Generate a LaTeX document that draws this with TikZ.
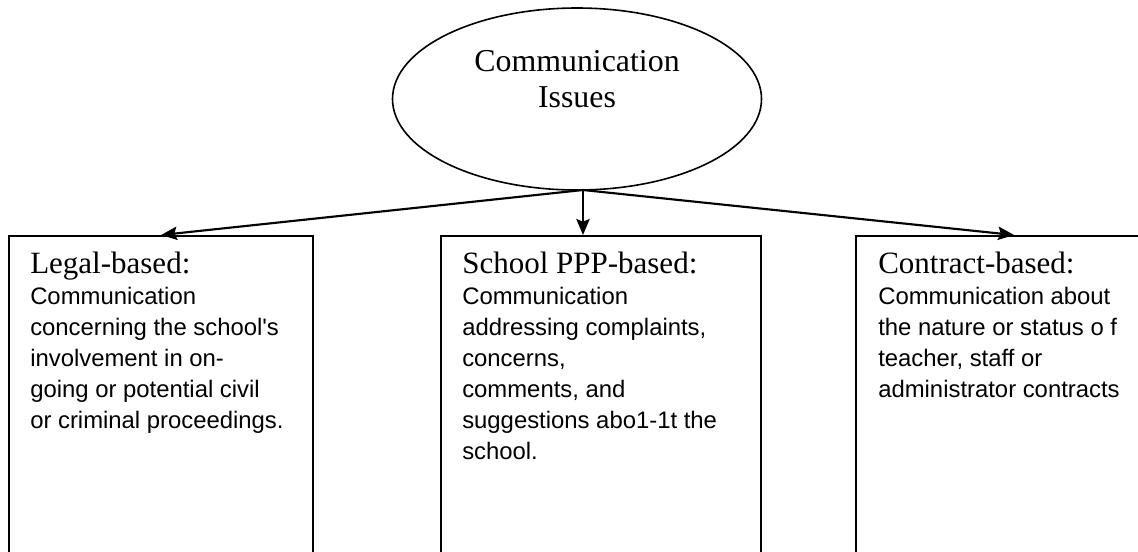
\documentclass[tikz,border=0pt]{standalone}
\usepackage{fontspec}
\setmainfont{Liberation Serif}
\setsansfont{Liberation Sans}
\usetikzlibrary{shapes.geometric,arrows.meta}
\newcommand\boxtitle[1]{{\rmfamily\fontsize{23.25}{28}\selectfont #1}}

\begin{document}
\begin{tikzpicture}[x=0.75pt,y=-0.75pt,
		issue/.style={draw,ellipse,line width=1.2pt,minimum width=276.75pt,minimum height=136.5pt,inner sep=0pt},
		frame/.style={draw,rectangle,line width=1.6pt,anchor=north west,minimum height=255pt,inner sep=0pt},
		boxtext/.style={anchor=north west,align=left,inner sep=0pt,font=\sffamily\fontsize{17.9}{23.25}\selectfont},
		link/.style={line width=1.6pt,-{Stealth[length=12pt,width=10pt,inset=2pt]}}]
	\useasboundingbox (0,0) rectangle (1138,551);
	\clip (0,0) rectangle (1138,551);
	% top ellipse
	\node[issue] (issues) at (577,99) {};
	\node[align=center,inner sep=0pt,anchor=north,font=\fontsize{23.9}{27}\selectfont] (issuestxt) at (577,50) {Communication\\Issues};
	\coordinate (fan) at (583,190);
	% the three boxes, open at the bottom
	\node[frame,minimum width=228pt] (legal) at (8,235) {};
	\node[frame,minimum width=240pt] (ppp) at (440,235) {};
	\node[frame,minimum width=237pt] (contract) at (855,235) {};
	\node[boxtext] (legaltxt) at (30,252) {\boxtitle{Legal-based:}\\
		Communication\\
		concerning the school\textquotesingle s\\
		involvement in on-\\
		going or potential civil\\
		or criminal proceedings.};
	\node[boxtext] (ppptxt) at (462,252) {\boxtitle{School PPP-based:}\\
		Communication\\
		addressing complaints,\\
		concerns,\\
		comments, and\\
		suggestions abo1-1t the\\
		school.};
	\node[boxtext] (contracttxt) at (878,252) {\boxtitle{Contract-based:}\\
		Communication about\\
		the nature or status o f\\
		teacher, staff or\\
		administrator contracts};
	% arrows
	\draw[link] (fan) -- (legal.north);
	\draw[link] (fan) -- (fan |- ppp.north);
	\draw[link] (fan) -- (contract.north);
\end{tikzpicture}
\end{document}
